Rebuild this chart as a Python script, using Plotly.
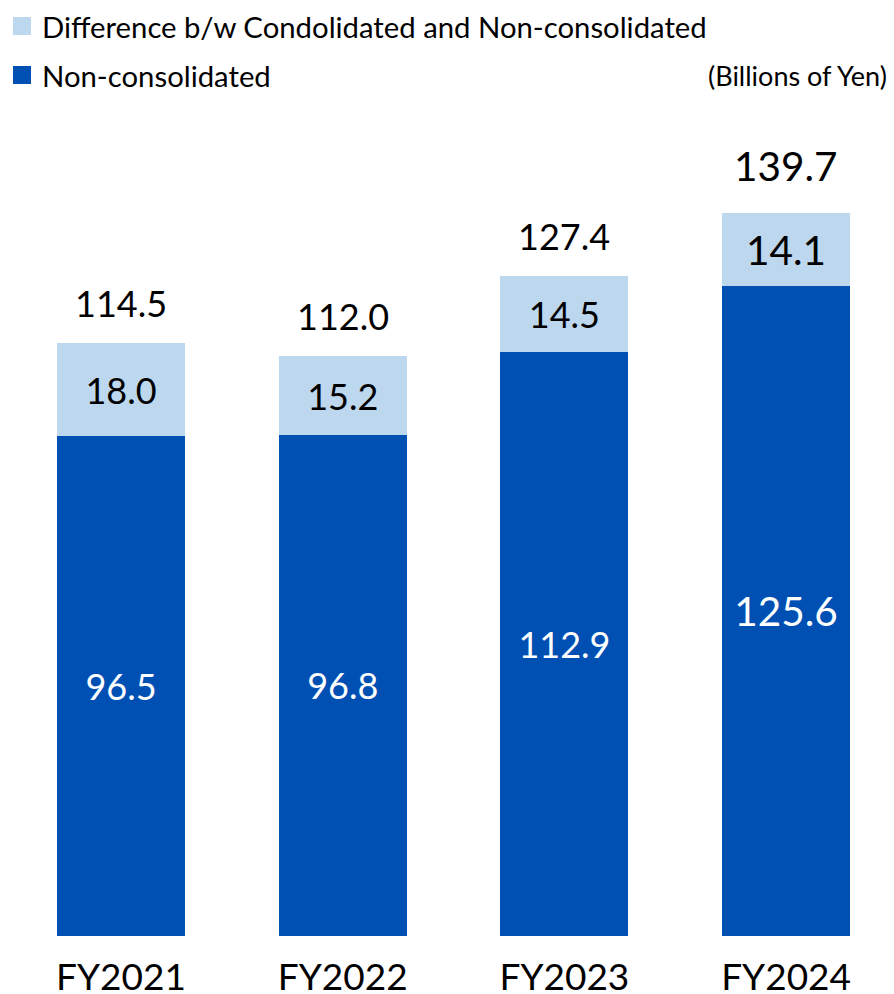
import plotly.graph_objects as go

# Fiscal years and values (billions of yen)
years = ["FY2021", "FY2022", "FY2023", "FY2024"]
non_consolidated = [96.5, 96.8, 112.9, 125.6]
difference = [18.0, 15.2, 14.5, 14.1]
totals = [114.5, 112.0, 127.4, 139.7]

# Latest year is printed a little larger
label_sizes = [36, 36, 36, 40.5]

DARK = "#0050B4"
LIGHT = "#BDD7EE"
FONT = "Lato, 'Open Sans', sans-serif"
W, H = 894, 994

xpos = list(range(len(years)))

fig = go.Figure()
fig.add_trace(go.Bar(
    x=xpos, y=non_consolidated, name="Non-consolidated",
    marker=dict(color=DARK, line=dict(width=0)),
    text=[f"{v:.1f}" for v in non_consolidated],
    textposition="inside", insidetextanchor="middle", textangle=0,
    textfont=dict(color="white", size=label_sizes, family=FONT),
    width=0.577, showlegend=False,
))
fig.add_trace(go.Bar(
    x=xpos, y=difference, name="Difference b/w Condolidated and Non-consolidated",
    marker=dict(color=LIGHT, line=dict(width=0)),
    text=[f"{v:.1f}" for v in difference],
    textposition="inside", insidetextanchor="middle", textangle=0,
    textfont=dict(color="black", size=label_sizes, family=FONT),
    width=0.577, showlegend=False,
))

# Totals above each stack
for x, t, s in zip(xpos, totals, label_sizes):
    fig.add_annotation(x=x, y=t, text=f"{t:.1f}", showarrow=False,
                       yanchor="bottom", yshift=16 + (s - 36),
                       font=dict(size=s, color="black", family=FONT))

# Legend drawn as swatches + labels in the top-left corner
legend_items = [("Difference b/w Condolidated and Non-consolidated", LIGHT, 26),
                ("Non-consolidated", DARK, 75)]
for label, color, cy in legend_items:
    fig.add_shape(type="rect", xref="paper", yref="paper",
                  xsizemode="pixel", ysizemode="pixel",
                  xanchor=0, yanchor=1,
                  x0=13, x1=31, y0=-(cy - 9), y1=-(cy + 9),
                  fillcolor=color, line=dict(width=0))
    fig.add_annotation(xref="paper", yref="paper", x=40 / W, y=1,
                       xanchor="left", yanchor="middle", yshift=-cy,
                       text=label, showarrow=False,
                       font=dict(size=29.3, color="black", family=FONT))

fig.add_annotation(xref="paper", yref="paper", x=889 / W, y=1,
                   xanchor="right", yanchor="middle", yshift=-75,
                   text="(Billions of Yen)", showarrow=False,
                   font=dict(size=27, color="black", family=FONT))

fig.update_layout(
    width=W, height=H,
    barmode="stack",
    plot_bgcolor="white", paper_bgcolor="white",
    margin=dict(l=0, r=0, t=0, b=58),
    font=dict(family=FONT, color="black"),
    showlegend=False,
    xaxis=dict(
        tickmode="array", tickvals=xpos, ticktext=years,
        range=[-0.5458, 3.4867],
        showgrid=False, zeroline=False, showline=False, ticks="",
        tickfont=dict(size=37, family=FONT, color="black"),
        ticklabelstandoff=16, automargin=False,
    ),
    yaxis=dict(range=[0, 180.8], visible=False, showgrid=False),
)

fig.write_html("out.html")
